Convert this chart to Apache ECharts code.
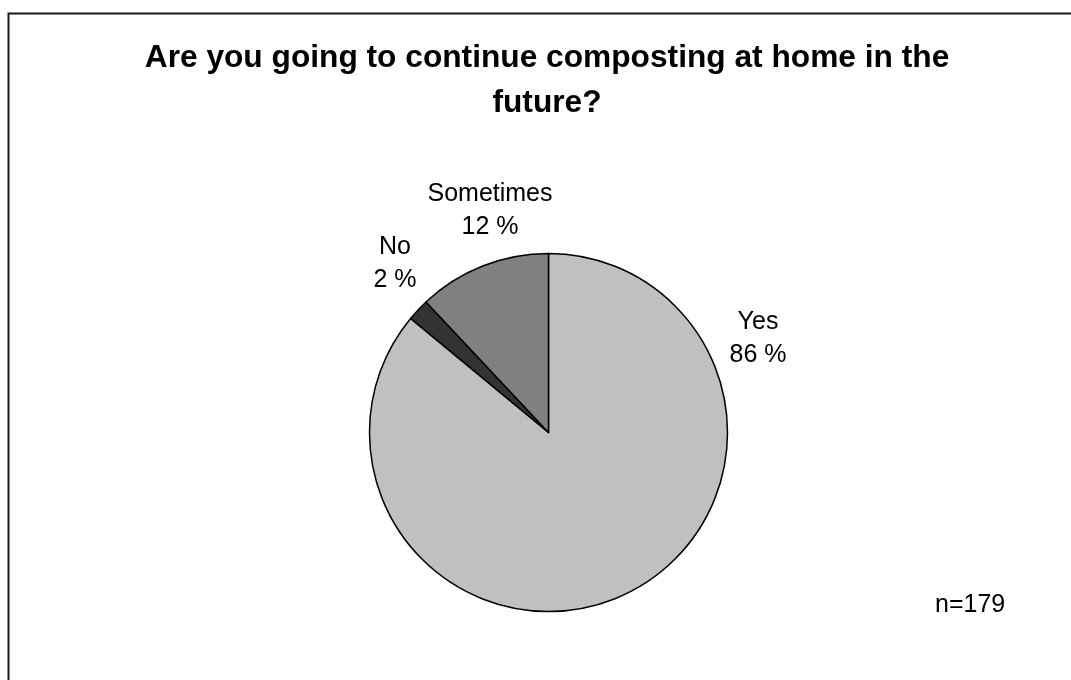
<!DOCTYPE html>
<html>
<head>
<meta charset="utf-8">
<script src="https://cdn.jsdelivr.net/npm/echarts@6/dist/echarts.min.js"></script>
<style>
html,body{margin:0;padding:0;background:#fff;}
#chart{width:1071px;height:680px;}
</style>
</head>
<body>
<div id="chart"></div>
<script>
const categories = ['Yes', 'No', 'Sometimes'];
const values = [86, 2, 12];
const sliceColors = ['#C0C0C0', '#333333', '#808080'];
const titleText = 'Are you going to continue composting at home in the\nfuture?';
const noteText = 'n=179';
// label anchor positions (centre of two-line label), by category order
const labelPos = [[758, 339], [395, 264], [490, 211]];

const chart = echarts.init(document.getElementById('chart'));
const FONT = '"Liberation Sans", Arial, sans-serif';
chart.setOption({
  animation: false,
  backgroundColor: '#fff',
  title: {
    text: titleText,
    left: 542,
    textAlign: 'center',
    top: 31,
    textStyle: { fontFamily: FONT, fontSize: 31.7, fontWeight: 'bold', color: '#000', lineHeight: 45 }
  },
  graphic: [
    { type: 'rect', shape: { x: 8.5, y: 13.5, width: 1200, height: 900 },
      style: { fill: 'none', stroke: '#1a1a1a', lineWidth: 2 }, silent: true },
    { type: 'text', left: 935, top: 593,
      style: { text: noteText, font: '25px ' + FONT, fill: '#000' } }
  ],
  series: [{
    type: 'pie',
    center: [548.5, 432.5],
    radius: 179,
    startAngle: 90,
    clockwise: true,
    avoidLabelOverlap: false,
    data: categories.map((c, i) => ({ name: c, value: values[i], itemStyle: { color: sliceColors[i] } })),
    itemStyle: { borderColor: '#000', borderWidth: 1.5 },
    label: {
      show: true,
      position: 'outside',
      formatter: p => p.name + '\n' + p.value + ' %',
      fontFamily: FONT, fontSize: 25, color: '#000', lineHeight: 33,
      align: 'center'
    },
    labelLine: { show: false },
    labelLayout: function (params) {
      const p = labelPos[params.dataIndex];
      return { x: p[0], y: p[1], align: 'center', verticalAlign: 'middle' };
    },
    emphasis: { disabled: true }
  }]
});
</script>
</body>
</html>
